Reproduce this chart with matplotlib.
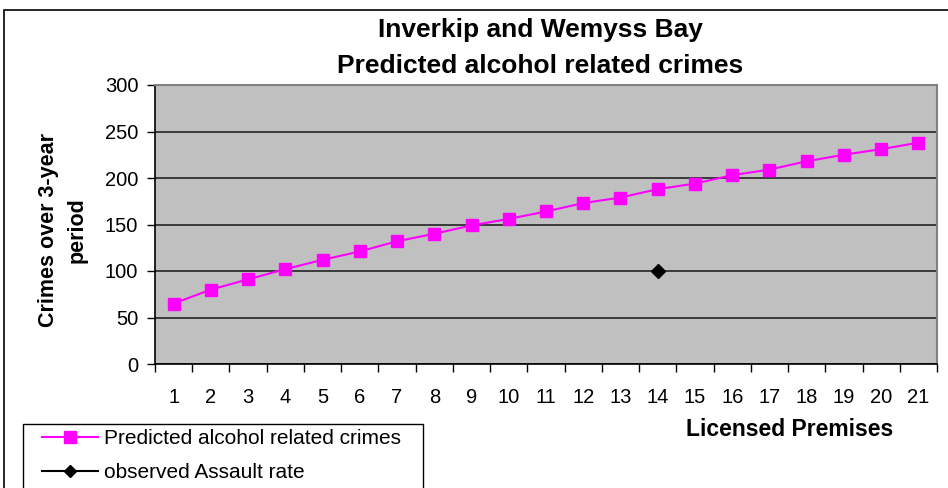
import matplotlib
matplotlib.use("Agg")
import matplotlib.pyplot as plt
from matplotlib.lines import Line2D
from matplotlib.patches import Rectangle

plt.rcParams['font.family'] = ['Liberation Sans', 'DejaVu Sans']

premises = list(range(1, 22))
predicted = [65, 80, 91, 102, 112, 121, 132, 140, 149, 156, 164,
             173, 179, 188, 194, 203, 209, 218, 225, 231, 238]
observed_x = [14]
observed_y = [100]
yticks = [0, 50, 100, 150, 200, 250, 300]

W, H = 948, 488
fig = plt.figure(figsize=(W / 100, H / 100), dpi=100)
fig.patch.set_facecolor('white')

# outer chart border
fig.patches.append(Rectangle((4 / W, -0.01), 1.1, 1 - 10 / H + 0.01,
                             transform=fig.transFigure, fill=False,
                             edgecolor='black', lw=1.2))

ax = fig.add_axes([155 / W, 1 - 364 / H, 782 / W, 279 / H])
ax.set_facecolor('#c0c0c0')
ax.set_xlim(0.5, 21.5)
ax.set_ylim(0, 300)
ax.set_yticks(yticks)
ax.grid(axis='y', color='#3a3a3a', lw=1.4)
ax.set_axisbelow(True)

ax.plot(premises, predicted, color='#ff00ff', lw=1.5, marker='s',
        markersize=9, markerfacecolor='#ff00ff', markeredgecolor='#ff00ff',
        zorder=3)
ax.plot(observed_x, observed_y, color='black', lw=1.5, marker='D',
        markersize=7, linestyle='none', zorder=3)

ax.set_xticks(premises)
ax.set_xticks([p - 0.5 for p in premises] + [21.5], minor=True)
ax.tick_params(axis='x', which='major', length=0, labelsize=14.5, pad=17)
ax.tick_params(axis='x', which='minor', length=6, width=1, direction='out')
ax.tick_params(axis='y', length=6, width=1, labelsize=14.5, direction='out', pad=6)

for s in ['top', 'right']:
    ax.spines[s].set_color('#808080')
    ax.spines[s].set_linewidth(1.5)
for s in ['left', 'bottom']:
    ax.spines[s].set_color('black')
    ax.spines[s].set_linewidth(1.2)

fig.text(540 / W, 1 - 30 / H, 'Inverkip and Wemyss Bay', ha='center',
         va='center', fontsize=19, fontweight='bold')
fig.text(540 / W, 1 - 66 / H, 'Predicted alcohol related crimes', ha='center',
         va='center', fontsize=19, fontweight='bold')

fig.text(63 / W, 1 - 230 / H, 'Crimes over 3-year\nperiod', rotation=90,
         ha='center', va='center', fontsize=15.5, fontweight='bold',
         linespacing=1.45)
fig.text(790 / W, 1 - 430 / H, 'Licensed Premises', ha='center', va='center',
         fontsize=16.5, fontweight='bold')

# legend frame (extends past the bottom edge, as in the reference)
fig.patches.append(Rectangle((23 / W, -0.05), 400 / W, (1 - 424 / H) + 0.05,
                             transform=fig.transFigure, fill=True,
                             facecolor='white', edgecolor='black', lw=1.0,
                             zorder=2))

handles = [Line2D([], [], color='#ff00ff', lw=1.5, marker='s', markersize=8,
                  markerfacecolor='#ff00ff', markeredgecolor='#ff00ff'),
           Line2D([], [], color='black', lw=1.5, marker='D', markersize=6.5)]
leg = fig.legend(handles, ['Predicted alcohol related crimes', 'observed Assault rate'],
                 loc='upper left', bbox_to_anchor=(42 / W, 1 - 429 / H),
                 frameon=False, fontsize=15, handlelength=2.7,
                 borderpad=0, labelspacing=0.72, handletextpad=0.3,
                 borderaxespad=0)
leg.set_zorder(3)

fig.savefig('out.png', dpi=100)
